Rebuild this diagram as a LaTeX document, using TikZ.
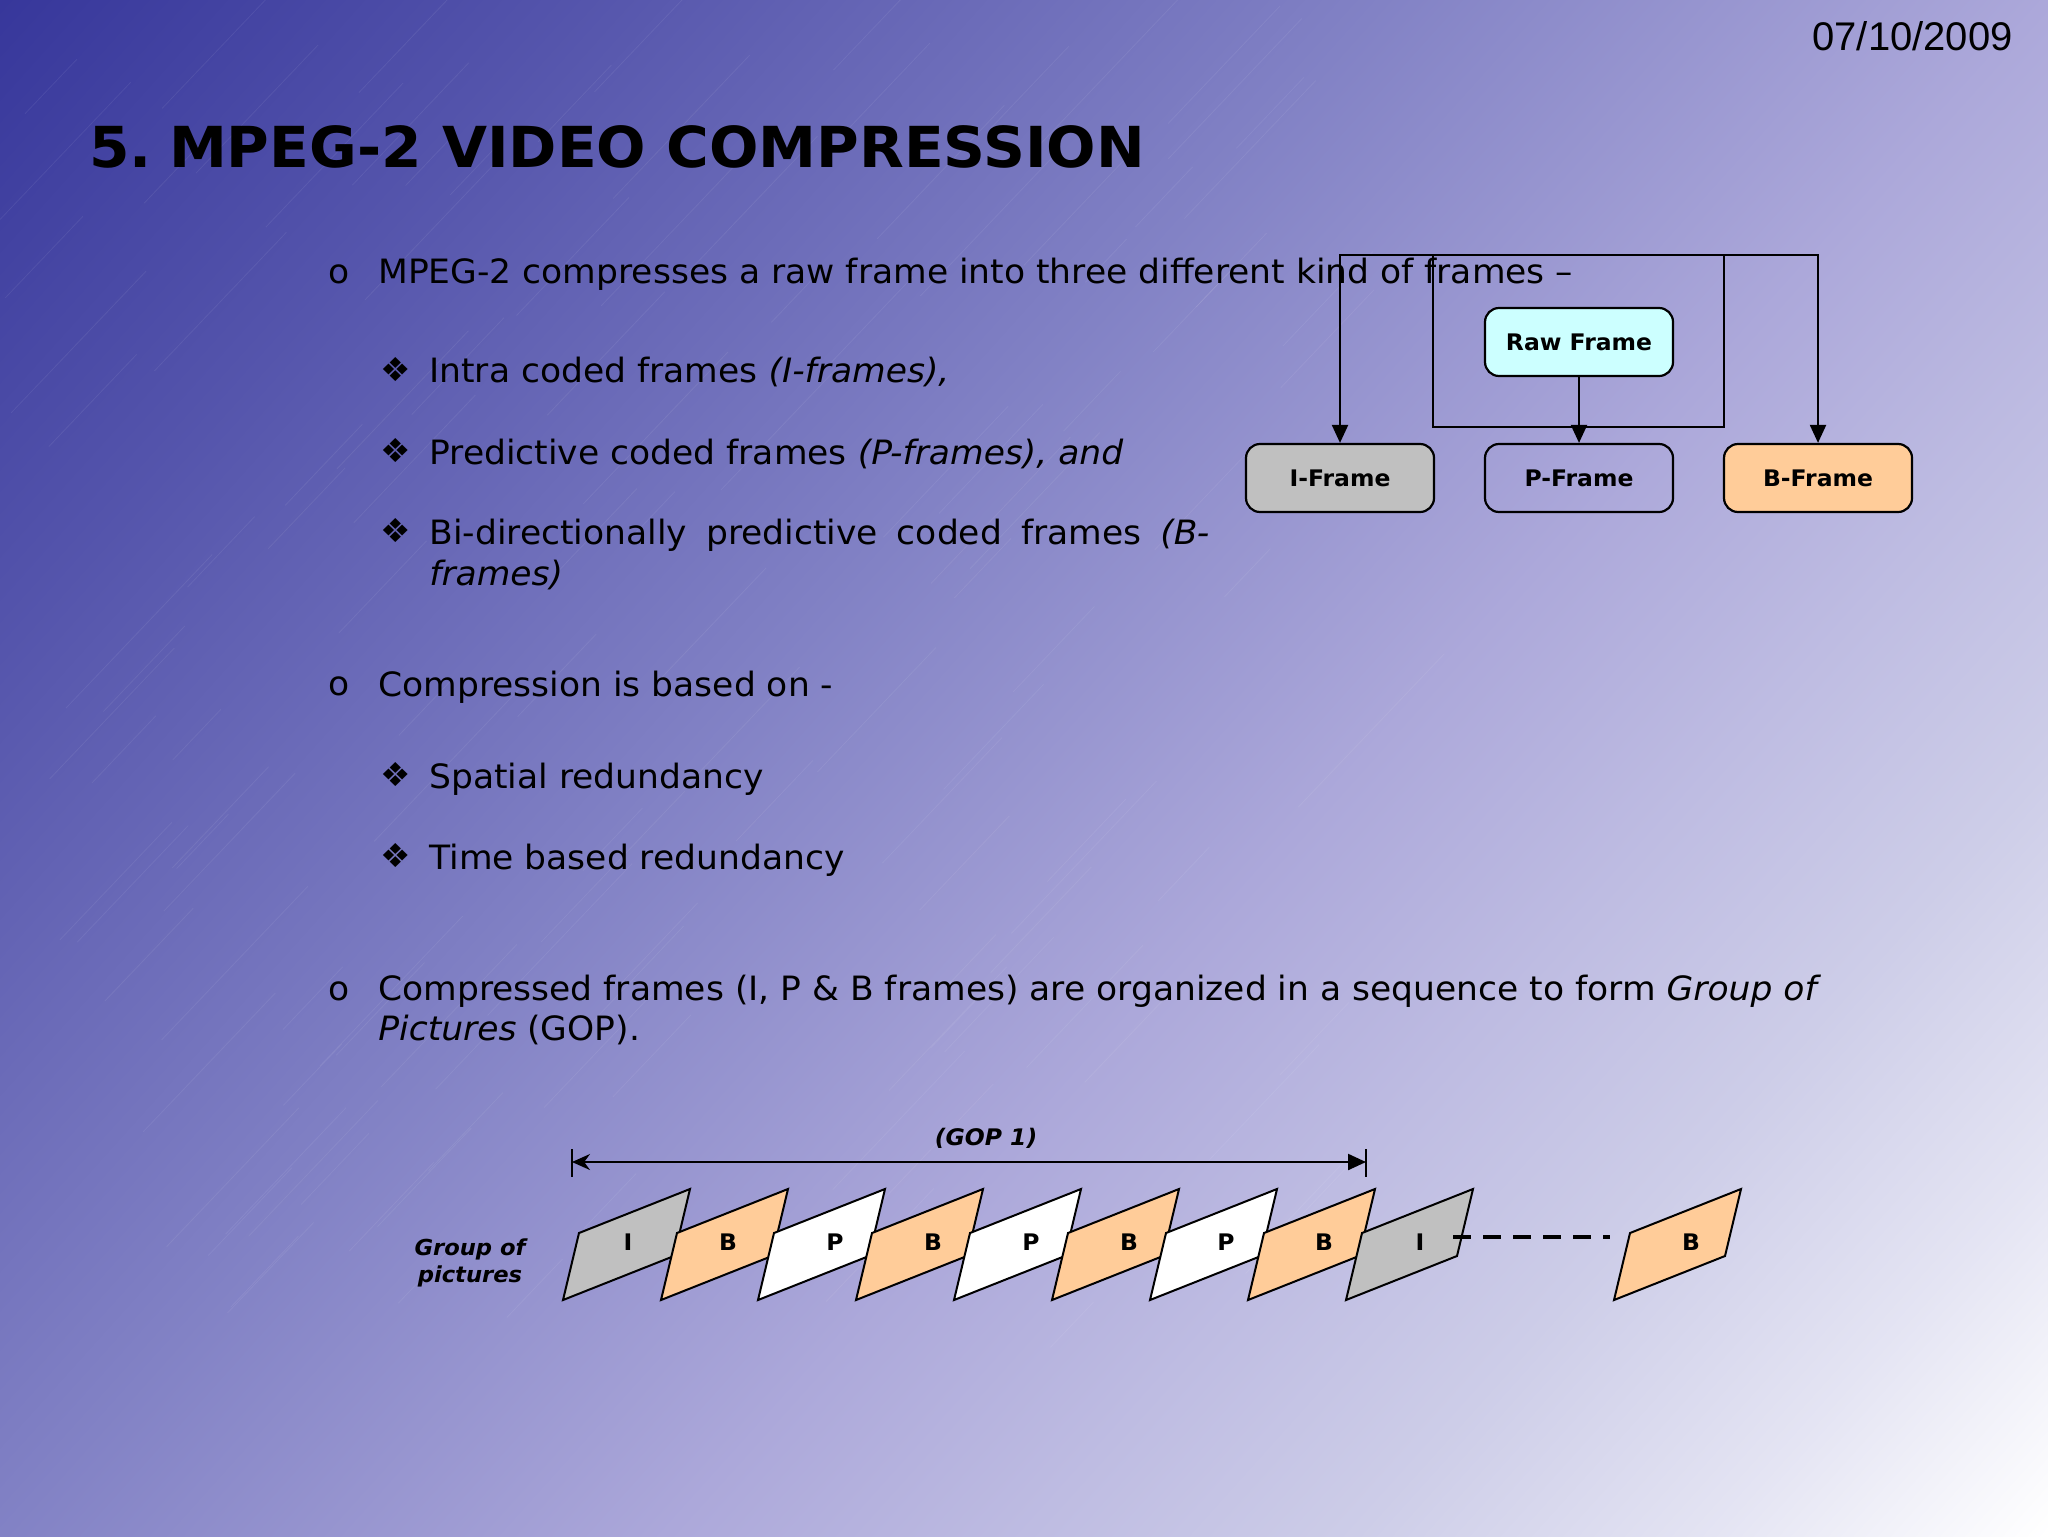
\documentclass[tikz,border=0pt]{standalone}
\usepackage{fontspec}
\setmainfont[FakeStretch=1.03]{DejaVu Sans}
\newfontfamily\datefont{Liberation Sans}
\usetikzlibrary{arrows.meta}
\definecolor{bgA}{RGB}{55,55,155}
\definecolor{bgB}{RGB}{85,85,172}
\definecolor{bgC}{RGB}{130,130,197}
\definecolor{bgD}{RGB}{172,168,218}
\definecolor{bgE}{RGB}{190,188,226}
\definecolor{bgF}{RGB}{205,205,232}
\definecolor{bgG}{RGB}{228,228,243}
\definecolor{rawcol}{RGB}{204,255,255}
\definecolor{icol}{RGB}{192,192,192}
\definecolor{bcol}{RGB}{255,204,153}
\pgfdeclarehorizontalshading{slideshade}{100bp}{color(0bp)=(bgA); color(25.5bp)=(bgA); color(33.9bp)=(bgB); color(45.25bp)=(bgC); color(54.75bp)=(bgD); color(59.9bp)=(bgE); color(64.6bp)=(bgF); color(69.7bp)=(bgG); color(74.5bp)=(white); color(100bp)=(white)}
\tikzset{
  bodytext/.style={anchor=base west,inner sep=0pt,font=\fontsize{16.75}{20}\selectfont},
  frame/.style={draw=black,line width=1.1pt,rounded corners=7pt,minimum width=94pt,minimum height=34pt,inner sep=0pt,font=\fontsize{11.4}{14}\bfseries\selectfont},
  link/.style={draw=black,line width=1.1pt},
  slant/.style={draw=black,line width=1pt,line join=miter},
  tag/.style={inner sep=0pt,font=\fontsize{11.4}{14}\bfseries\selectfont},
  head/.style={-{Triangle[length=9pt,width=8pt]}}
}
\begin{document}
\begin{tikzpicture}[x=0.5pt,y=-0.5pt]
    \useasboundingbox (0,0) rectangle (2048,1536);
    % Slide background
    \begin{scope}
        \clip (0,0) rectangle (2048,1536);
        \shade[shading=slideshade,shading angle=-42] (-276,-532) rectangle (2324,2068);
        \pgfmathsetseed{7}
        \foreach \i in {1,...,130} {
            \pgfmathsetmacro{\sx}{rnd*1300}
            \pgfmathsetmacro{\sy}{rnd*1300+50}
            \pgfmathsetmacro{\sl}{rnd*110+40}
            \draw[white,opacity=0.07,line width=0.4pt] (\sx,\sy) -- ++(\sl,-1.05*\sl);
        }
    \end{scope}

    % Date and title
    \node[anchor=base east,inner sep=0pt,font=\datefont\fontsize{20}{24}\selectfont] (date) at (2013,51) {07/10/2009};
    \node[anchor=base west,inner sep=0pt,font=\fontsize{28.25}{32}\bfseries\selectfont] (title) at (89,167) {5.\kern-1.6pt\ MPEG-2 VIDEO COMPRESSION};

    % Bullets and their text
    \foreach \yy/\nm in {283/a,695/b,1000/c} \node[bodytext] (o\nm) at (328,\yy) {o};
    \foreach \yy/\nm in {381/a,462/b,542/c,786/d,867/e} \node[anchor=base west,inner sep=0pt,font=\fontsize{16.5}{20}\selectfont] (d\nm) at (380,\yy) {\symbol{"2756}};
    \node[bodytext] (l1) at (378,283) {MPEG-2 compresses a raw frame into three different kind of frames --};
    \node[bodytext] (l2) at (429,382) {Intra coded frames \textit{(I-frames),}};
    \node[bodytext] (l3) at (429,464) {Predictive coded frames \textit{(P-frames), and}};
    \node[bodytext] (l4) at (429,544) {\makebox[390pt][s]{Bi-directionally\hfill predictive\hfill coded\hfill frames\hfill\textit{(B-}}};
    \node[bodytext] (l5) at (429,585) {\textit{frames)}};
    \node[bodytext] (l6) at (378,696) {Compression is based on -};
    \node[bodytext] (l7) at (429,788) {Spatial redundancy};
    \node[bodytext] (l8) at (429,869) {Time based redundancy};
    \node[bodytext] (l9) at (378,1000) {Compressed frames (I, P \& B frames) are organized in a sequence to form \textit{Group of}};
    \node[bodytext] (l10) at (378,1040) {\textit{Pictures} (GOP).};

    % Frame kinds
    \node[frame,fill=rawcol] (raw) at (1579,342) {Raw Frame};
    \node[frame,fill=icol] (iframe) at (1340,478) {I-Frame};
    \node[frame] (pframe) at (1579,478) {P-Frame};
    \node[frame,fill=bcol] (bframe) at (1818,478) {B-Frame};
    \coordinate (lowl) at (1433,427); \coordinate (lowr) at (1724,427);
    \coordinate (topl) at (1433,255); \coordinate (topr) at (1724,255);
    \draw[link,head] (raw.south) -- (pframe.north);
    \draw[link] (lowl) -- (lowr) -- (topr) -- (topl) -- cycle;
    \draw[link,head] (topl) -| (iframe.north);
    \draw[link,head] (topr) -| (bframe.north);

    % Group of pictures
    \foreach \i/\xx/\lab/\col/\off in {1/563/I/icol/65,2/661/B/bcol/67,3/758/P/white/77,4/856/B/bcol/77,5/954/P/white/77,6/1052/B/bcol/77,7/1150/P/white/76,8/1248/B/bcol/76,9/1346/I/icol/74,10/1614/B/bcol/77} {
        \filldraw[slant,fill=\col] (\xx,1300) -- ++(16,-67) -- ++(111,-44) -- ++(-16,67) -- cycle;
        \node[tag] (f\i) at (\xx+\off,1242) {\lab};
    }
    \node[tag,align=center,font=\fontsize{11}{13.5}\bfseries\itshape\selectfont] (gop) at (470,1263) {Group of\\pictures};
    \coordinate (dashl) at (1453,1237); \coordinate (dashr) at (1610,1237);
    \draw[black,line width=2.2pt,dash pattern=on 9pt off 6pt] (dashl) -- (dashr);

    % GOP span
    \coordinate (spanl) at (572,1162); \coordinate (spanr) at (1366,1162);
    \draw[black,line width=1.1pt,{Stealth[length=9pt,width=8pt]}-{Triangle[length=9pt,width=8pt]}] (spanl) -- (spanr);
    \draw[black,line width=0.6pt] (572,1149) -- (spanl) -- (572,1177);
    \draw[black,line width=0.6pt] (1366,1149) -- (spanr) -- (1366,1177);
    \node[tag,font=\fontsize{11.4}{14}\bfseries\itshape\selectfont] (goplab) at (986,1138) {(GOP 1)};
\end{tikzpicture}
\end{document}
